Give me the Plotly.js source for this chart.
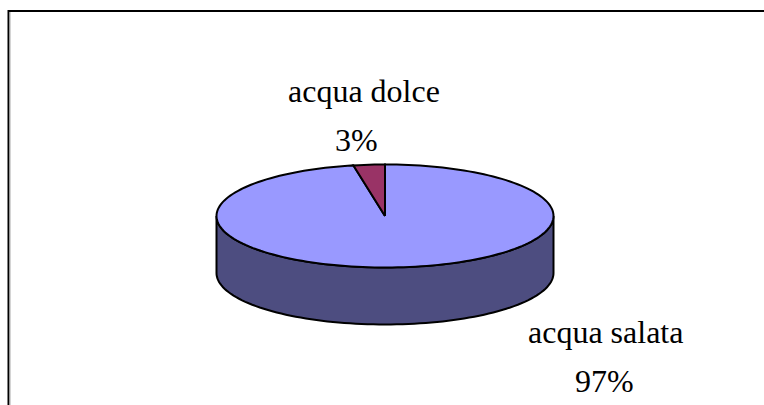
<!DOCTYPE html>
<html>
<head>
<meta charset="utf-8">
<script src="https://cdn.plot.ly/plotly-3.0.1.min.js"></script>
<style>html,body{margin:0;padding:0;background:#fff}</style>
</head>
<body>
<div id="chart" style="width:764px;height:405px"></div>
<script>
// Data
const categories = ["acqua salata", "acqua dolce"];
const values = [97, 3];
const percentLabels = ["97%", "3%"];
const sliceColors = ["#9999FF", "#993366"];
const wallColor = "#4D4D80";

// Pie geometry: one axis unit = one radius of the tilted disc
const W = 764, H = 405;
const cx = 385, cy = 216, rx = 168.5, ry = 51.5;
const depth = 57 / ry;
const total = values.reduce((a, b) => a + b, 0);

function arc(fromDeg, toDeg, yOffset) {
  const xs = [], ys = [];
  const n = Math.max(2, Math.ceil(Math.abs(toDeg - fromDeg) / 2));
  for (let i = 0; i <= n; i++) {
    const a = (fromDeg + (toDeg - fromDeg) * i / n) * Math.PI / 180;
    xs.push(Math.sin(a));
    ys.push(Math.cos(a) + yOffset);
  }
  return {x: xs, y: ys};
}

const base = {type: "scatter", mode: "lines", fill: "toself", hoverinfo: "skip",
  showlegend: false, line: {color: "#000", width: 2, simplify: false}};

const traces = [];
// Side wall (front half of the disc)
const upper = arc(90, 270, 0), lower = arc(270, 90, -depth);
traces.push(Object.assign({}, base, {
  name: "wall", fillcolor: wallColor,
  x: upper.x.concat(lower.x, [upper.x[0]]),
  y: upper.y.concat(lower.y, [upper.y[0]])
}));
// Top face: one wedge per value, clockwise from 12 o'clock
let start = 0;
values.forEach((v, i) => {
  const sweep = v / total * 360;
  const a = arc(start, start + sweep, 0);
  traces.push(Object.assign({}, base, {
    name: categories[i], fillcolor: sliceColors[i],
    x: [0].concat(a.x, [0]),
    y: [0].concat(a.y, [0])
  }));
  start += sweep;
});

const font = {family: "Liberation Serif, serif", size: 32, color: "#000"};
function label(text, px, baselineY) {
  return {text: text, xref: "paper", yref: "paper", x: px / W, y: 1 - baselineY / H,
    xanchor: "center", yanchor: "bottom", showarrow: false, font: font,
    borderpad: 0, borderwidth: 0, yshift: -7};
}

const layout = {
  width: W, height: H,
  margin: {l: 0, r: 0, t: 0, b: 0, pad: 0},
  paper_bgcolor: "#fff", plot_bgcolor: "#fff",
  showlegend: false,
  xaxis: {visible: false, fixedrange: true, range: [-cx / rx, (W - cx) / rx]},
  yaxis: {visible: false, fixedrange: true, range: [-(H - cy) / ry, cy / ry]},
  shapes: [
    {type: "line", xref: "paper", yref: "paper", x0: 8.5 / W, x1: 8.5 / W, y0: 0, y1: 1 - 10 / H,
      line: {color: "#000", width: 2}},
    {type: "line", xref: "paper", yref: "paper", x0: 10 / W, x1: 10 / W, y0: 0, y1: 1 - 12 / H,
      line: {color: "#aaa", width: 1}},
    {type: "line", xref: "paper", yref: "paper", x0: 8 / W, x1: 1, y0: 1 - 11 / H, y1: 1 - 11 / H,
      line: {color: "#000", width: 2}}
  ],
  annotations: [
    label(categories[1], 364, 102),
    label(percentLabels[1], 356, 151),
    label(categories[0], 605.5, 343),
    label(percentLabels[0], 604, 392)
  ]
};

Plotly.newPlot("chart", traces, layout, {displayModeBar: false, staticPlot: true});
</script>
</body>
</html>
